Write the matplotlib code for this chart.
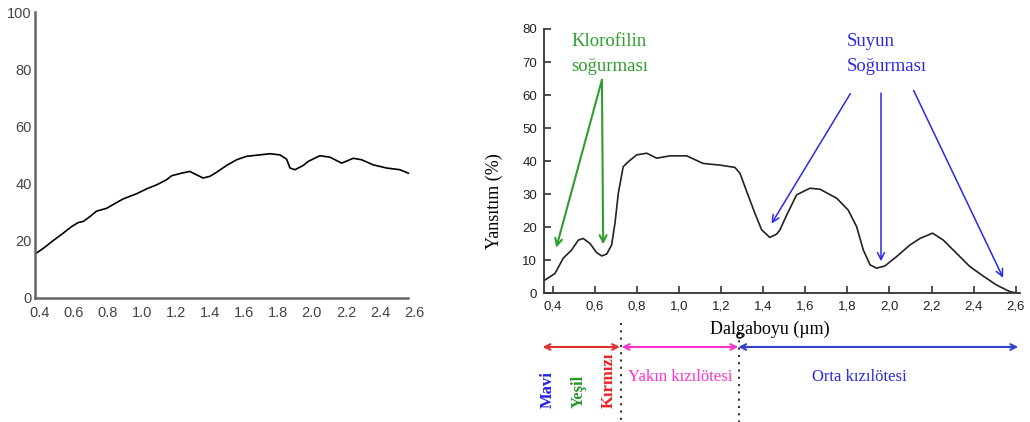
import matplotlib
matplotlib.use('Agg')
import matplotlib.pyplot as plt

# sol grafik: toprak yansıma eğrisi (okunan değerler)
soil_wl = [0.371, 0.42, 0.478, 0.537, 0.586, 0.625, 0.655, 0.694, 0.733, 0.792,
           0.851, 0.89, 0.969, 1.027, 1.086, 1.145, 1.175, 1.233, 1.282, 1.322,
           1.36, 1.40, 1.439, 1.498, 1.557, 1.616, 1.694, 1.753, 1.812, 1.851,
           1.871, 1.90, 1.949, 1.978, 2.047, 2.106, 2.175, 2.243, 2.292, 2.361,
           2.439, 2.518, 2.567]
soil_refl = [15.3, 17.3, 20.0, 22.6, 24.9, 26.3, 26.7, 28.4, 30.3, 31.3,
             33.3, 34.6, 36.4, 38.1, 39.5, 41.3, 42.7, 43.6, 44.2, 43.0,
             41.9, 42.5, 43.9, 46.3, 48.3, 49.5, 50.0, 50.4, 50.0, 48.5,
             45.4, 44.8, 46.3, 47.7, 49.7, 49.2, 47.1, 48.8, 48.3, 46.5,
             45.4, 44.8, 43.6]
soil_xticks = [0.4, 0.6, 0.8, 1.0, 1.2, 1.4, 1.6, 1.8, 2.0, 2.2, 2.4, 2.6]
soil_yticks = [0, 20, 40, 60, 80, 100]

# sag grafik: bitki yansıma eğrisi
veg_wl = [0.363, 0.411, 0.45, 0.49, 0.522, 0.545, 0.577, 0.609, 0.633, 0.657,
          0.68, 0.696, 0.712, 0.735, 0.759, 0.799, 0.847, 0.894, 0.957, 1.037,
          1.115, 1.195, 1.266, 1.29, 1.322, 1.361, 1.393, 1.432, 1.464, 1.48,
          1.512, 1.559, 1.622, 1.67, 1.749, 1.804, 1.844, 1.876, 1.908, 1.939,
          1.979, 2.034, 2.097, 2.145, 2.205, 2.256, 2.319, 2.382, 2.446, 2.509,
          2.572, 2.612]
veg_refl = [4.0, 6.0, 10.6, 13.1, 16.1, 16.6, 15.1, 12.3, 11.3, 11.9,
            14.6, 21.2, 30.3, 38.3, 39.8, 41.9, 42.4, 40.9, 41.6, 41.6,
            39.3, 38.8, 38.1, 36.3, 30.8, 24.2, 19.2, 16.9, 17.9, 19.2,
            23.7, 29.8, 31.8, 31.5, 28.8, 25.2, 20.2, 13.1, 8.6, 7.6,
            8.3, 11.1, 14.6, 16.6, 18.2, 16.1, 12.1, 8.1, 5.2, 2.5,
            0.5, 0.0]
veg_xticks = [0.4, 0.6, 0.8, 1.0, 1.2, 1.4, 1.6, 1.8, 2.0, 2.2, 2.4, 2.6]
veg_xlabels = ['0,4', '0,6', '0,8', '1,0', '1,2', '1,4', '1,6', '1,8', '2,0', '2,2', '2,4', '2,6']
veg_yticks = [0, 10, 20, 30, 40, 50, 60, 70, 80]

SERIF = 'Liberation Serif'
SANS = 'Liberation Sans'

fig = plt.figure(figsize=(10.3, 4.22), dpi=100)

# --- sol grafik ---
ax1 = fig.add_axes([0.0335, 0.2945, 0.370, 0.677])
ax1.plot(soil_wl, soil_refl, color='black', lw=1.2)
ax1.set_xlim(0.368, 2.61)
ax1.set_ylim(0, 100)
ax1.set_xticks(soil_xticks)
ax1.set_xticklabels([f'{v:.1f}' for v in soil_xticks])
ax1.set_yticks(soil_yticks)
for s in ['top', 'right']:
    ax1.spines[s].set_visible(False)
for s in ['left', 'bottom']:
    ax1.spines[s].set_color('#666666')
    ax1.spines[s].set_linewidth(1.8)
ax1.spines['bottom'].set_bounds(0.368, 2.565)
ax1.tick_params(length=0, labelsize=10.5, labelcolor='#444444')
ax1.tick_params(axis='y', pad=2)
ax1.tick_params(axis='x', pad=6)
for lbl in ax1.get_xticklabels() + ax1.get_yticklabels():
    lbl.set_fontfamily(SANS)

# --- sag grafik ---
ax2 = fig.add_axes([0.5284, 0.305, 0.4618, 0.6263])
ax2.plot(veg_wl, veg_refl, color='#222222', lw=1.2)
ax2.set_xlim(0.36, 2.62)
ax2.set_ylim(0, 80)
ax2.set_xticks(veg_xticks)
ax2.set_xticklabels(veg_xlabels)
ax2.set_yticks(veg_yticks)
for s in ['top', 'right']:
    ax2.spines[s].set_visible(False)
for s in ['left', 'bottom']:
    ax2.spines[s].set_color('#333333')
    ax2.spines[s].set_linewidth(1.3)
ax2.tick_params(direction='in', length=5, width=1.2, color='#333333',
                labelsize=9.5, labelcolor='#222222', pad=5)
for lbl in ax2.get_xticklabels() + ax2.get_yticklabels():
    lbl.set_fontfamily(SANS)

ax2.text(1.434, -10.8, 'Dalgaboyu (µm)', fontfamily=SERIF, fontsize=13,
         ha='center', va='center', clip_on=False)
ax2.text(0.121, 27.9, 'Yansıtım (%)', fontfamily=SERIF, fontsize=13,
         rotation=90, ha='center', va='center', clip_on=False)

# klorofil soğurması
green = '#2e9e2e'
ax2.text(0.49, 76.2, 'Klorofilin', color=green, fontfamily=SERIF, fontsize=13.5,
         ha='left', va='center')
ax2.text(0.49, 68.6, 'soğurması', color=green, fontfamily=SERIF, fontsize=13.5,
         ha='left', va='center')
for tx, ty in [(0.417, 13.8), (0.64, 14.8)]:
    ax2.annotate('', xy=(tx, ty), xytext=(0.634, 64.6),
                 arrowprops=dict(arrowstyle='->,head_length=0.5,head_width=0.25',
                                 color=green, lw=1.5, shrinkA=0, shrinkB=0))

# su soğurması
blue = '#2a2ae6'
ax2.text(1.797, 76.2, 'Suyun', color=blue, fontfamily=SERIF, fontsize=13.5,
         ha='left', va='center')
ax2.text(1.797, 68.6, 'Soğurması', color=blue, fontfamily=SERIF, fontsize=13.5,
         ha='left', va='center')
for (sx, sy), (tx, ty) in [((1.814, 60.4), (1.44, 21.1)),
                           ((1.96, 60.6), (1.96, 9.7)),
                           ((2.115, 61.4), (2.54, 4.7))]:
    ax2.annotate('', xy=(tx, ty), xytext=(sx, sy),
                 arrowprops=dict(arrowstyle='->,head_length=0.5,head_width=0.25',
                                 color=blue, lw=1.1, shrinkA=0, shrinkB=0))

# alt bölge: spektrum aralıkları
row_y = -16.25
for x0, x1, c in [(0.352, 0.72, '#e03030'),
                  (0.728, 1.282, '#ff33cc'),
                  (1.282, 2.612, '#3340cc')]:
    ax2.annotate('', xy=(x1, row_y), xytext=(x0, row_y), annotation_clip=False,
                 arrowprops=dict(arrowstyle='<->', color=c, lw=1.5,
                                 shrinkA=0, shrinkB=0))

ax2.plot([0.723, 0.723], [-9.0, -39.0], ls=(0, (1, 2.5)), color='#333333',
         lw=1.5, clip_on=False)
ax2.plot([1.285, 1.285], [-12.0, -39.0], ls=(0, (1, 2.5)), color='#333333',
         lw=1.5, clip_on=False)
ax2.plot([1.285], [-12.6], marker='o', ms=4, mfc='none', mec='#333333',
         clip_on=False)

for x, txt, c in [(0.378, 'Mavi', '#2020ee'),
                  (0.525, 'Yeşil', '#2a962a'),
                  (0.668, 'Kırmızı', '#ee2222')]:
    ax2.text(x, -34.7, txt, color=c, fontfamily=SERIF, fontsize=12,
             fontweight='bold', rotation=90, ha='center', va='bottom',
             clip_on=False)

ax2.text(1.005, -25.2, 'Yakın kızılötesi', color='#ff33cc', fontfamily=SERIF,
         fontsize=12, ha='center', va='center', clip_on=False)
ax2.text(1.856, -25.2, 'Orta kızılötesi', color='#2a2ae6', fontfamily=SERIF,
         fontsize=12, ha='center', va='center', clip_on=False)

fig.savefig('out.png', dpi=100)
